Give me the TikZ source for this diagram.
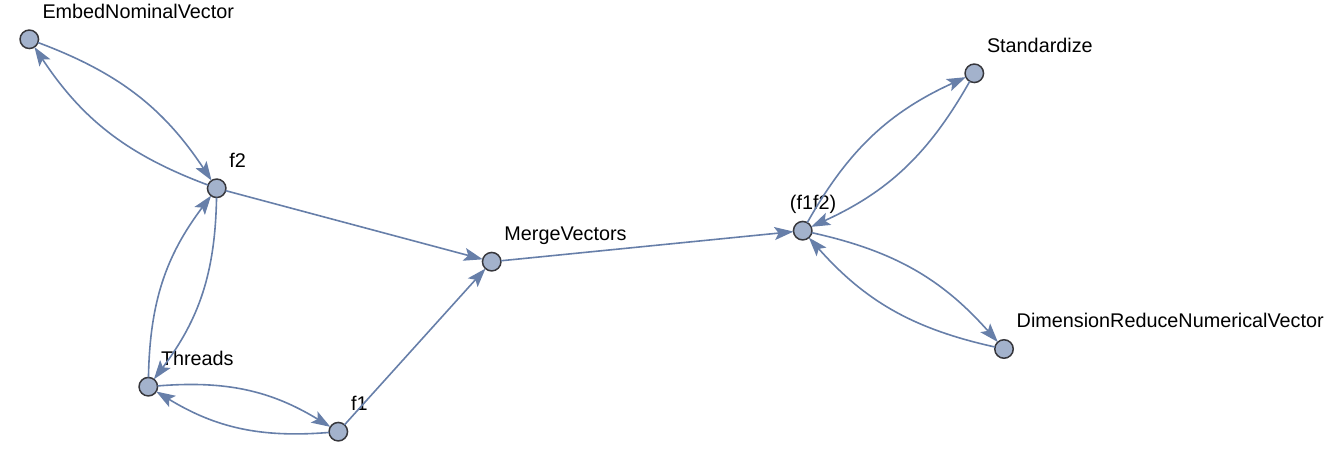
\documentclass[tikz,border=0pt]{standalone}
\usepackage{fontspec}
\setmainfont{Liberation Sans}
\usetikzlibrary{arrows.meta}
\definecolor{edgecol}{RGB}{103,127,169}
\definecolor{vfill}{RGB}{163,178,204}
\definecolor{vborder}{RGB}{55,55,60}
\begin{document}
\begin{tikzpicture}[x=1pt,y=1pt,
  vert/.style={circle,draw=vborder,fill=vfill,line width=1.5pt,minimum size=18.5pt,inner sep=0pt,outer sep=0pt},
  lab/.style={anchor=base west,inner sep=0pt,font=\fontsize{19.8}{24}\selectfont},
  edge/.style={draw=edgecol,line width=1.6pt,-{Stealth[length=19pt,width=13pt,inset=4pt]}},
  bl/.style={bend left=18}]
\useasboundingbox (0,0) rectangle (1330,462);
\node[vert] (E) at (29.3,422.7) {};
\node[vert] (F2) at (216.7,273.7) {};
\node[vert] (T) at (148.3,75.3) {};
\node[vert] (F1) at (338.3,30.3) {};
\node[vert] (M) at (491.7,200.3) {};
\node[vert] (FF) at (802.7,231.3) {};
\node[vert] (S) at (974.3,388.7) {};
\node[vert] (D) at (1004,113) {};
\node[lab] (El) at ([shift={(13,21)}]E.center) {EmbedNominalVector};
\node[lab] (F2l) at ([shift={(12.5,21)}]F2.center) {f2};
\node[lab] (Tl) at ([shift={(12.5,21)}]T.center) {Threads};
\node[lab] (F1l) at ([shift={(12.5,21)}]F1.center) {f1};
\node[lab] (Ml) at ([shift={(12.5,21)}]M.center) {MergeVectors};
\node[lab] (FFl) at ([shift={(-13,21)}]FF.center) {(f1f2)};
\node[lab] (Sl) at ([shift={(12.5,21)}]S.center) {Standardize};
\node[lab] (Dl) at ([shift={(12.5,21)}]D.center) {DimensionReduceNumericalVector};
\draw[edge] (E) to[bl] (F2);
\draw[edge] (F2) to[bl] (E);
\draw[edge] (F2) to[bl] (T);
\draw[edge] (T) to[bl] (F2);
\draw[edge] (T) to[bl] (F1);
\draw[edge] (F1) to[bl] (T);
\draw[edge] (F2) -- (M);
\draw[edge] (F1) -- (M);
\draw[edge] (M) -- (FF);
\draw[edge] (FF) to[bl] (S);
\draw[edge] (S) to[bl] (FF);
\draw[edge] (FF) to[bl] (D);
\draw[edge] (D) to[bl] (FF);
\end{tikzpicture}
\end{document}
